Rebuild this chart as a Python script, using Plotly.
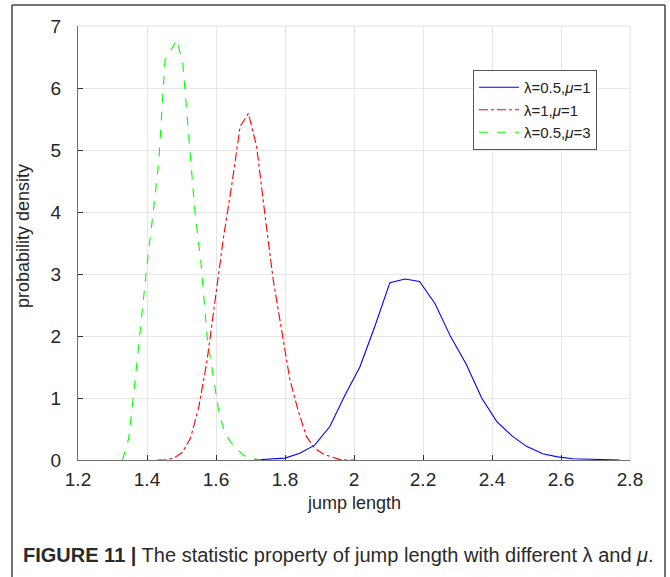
import plotly.graph_objects as go

# λ=0.5, μ=1
x_blue = [1.71, 1.755, 1.80, 1.843, 1.886, 1.93, 1.974, 2.017, 2.06, 2.104, 2.148, 2.19,
          2.235, 2.28, 2.325, 2.37, 2.414, 2.458, 2.50, 2.547, 2.59, 2.635, 2.68, 2.72, 2.77]
y_blue = [0.0, 0.01, 0.03, 0.11, 0.24, 0.54, 1.05, 1.5, 2.15, 2.86, 2.92, 2.88,
          2.52, 1.99, 1.55, 1.0, 0.62, 0.39, 0.22, 0.10, 0.05, 0.02, 0.01, 0.003, 0.0]

# λ=1, μ=1
x_red = [1.43, 1.454, 1.478, 1.502, 1.526, 1.55, 1.574, 1.598, 1.622, 1.646, 1.67, 1.694,
         1.718, 1.742, 1.766, 1.79, 1.814, 1.838, 1.862, 1.886, 1.91, 1.934, 1.958, 1.982, 2.0]
y_red = [0.0, 0.005, 0.03, 0.12, 0.35, 0.85, 1.6, 2.6, 3.6, 4.45, 5.38, 5.59,
         5.05, 3.95, 2.9, 2.1, 1.3, 0.8, 0.38, 0.19, 0.1, 0.05, 0.01, 0.0, 0.0]

# λ=0.5, μ=3
x_green = [1.329, 1.347, 1.364, 1.382, 1.399, 1.417, 1.434, 1.452, 1.469, 1.487, 1.504, 1.522,
           1.539, 1.557, 1.574, 1.592, 1.609, 1.627, 1.644, 1.662, 1.679, 1.697, 1.714, 1.732]
y_green = [0.0, 0.35, 1.2, 2.2, 3.1, 3.95, 4.8, 6.45, 6.62, 6.78, 6.38, 5.1,
           4.0, 3.15, 2.0, 1.35, 0.75, 0.42, 0.28, 0.17, 0.08, 0.03, 0.01, 0.0]

x_ticks = [1.2, 1.4, 1.6, 1.8, 2.0, 2.2, 2.4, 2.6, 2.8]
x_tick_labels = ["1.2", "1.4", "1.6", "1.8", "2", "2.2", "2.4", "2.6", "2.8"]
y_ticks = [0, 1, 2, 3, 4, 5, 6, 7]

series_names = ["λ=0.5,<i>μ</i>=1", "λ=1,<i>μ</i>=1", "λ=0.5,<i>μ</i>=3"]

fig = go.Figure()
fig.add_trace(go.Scatter(x=x_blue, y=y_blue, mode="lines", name=series_names[0],
                         line=dict(color="#0000ff", width=1.1)))
fig.add_trace(go.Scatter(x=x_red, y=y_red, mode="lines", name=series_names[1],
                         line=dict(color="#ff0000", width=1.1, dash="dashdot")))
fig.add_trace(go.Scatter(x=x_green, y=y_green, mode="lines", name=series_names[2],
                         line=dict(color="#00ff00", width=1.1, dash="dash")))

font_family = "Liberation Sans, Arial, sans-serif"

W, H = 670, 577
L, T = 78, 26
pw, ph = 552, 434
R = W - L - pw
B = H - T - ph

def px(xr):  # screen x -> paper x
    return (xr - L) / pw

def py(yr):  # screen y -> paper y
    return (T + ph - yr) / ph

fig.update_layout(
    width=W, height=H,
    margin=dict(l=L, r=R, t=T, b=B, autoexpand=False),
    paper_bgcolor="white", plot_bgcolor="white",
    font=dict(family=font_family, size=19, color="#262626"),
    showlegend=True,
    legend=dict(x=px(473), y=py(70), xanchor="left", yanchor="top",
                bgcolor="white", bordercolor="#555555", borderwidth=1,
                font=dict(size=15, color="#222222"), tracegroupgap=0,
                itemwidth=40),
    xaxis=dict(range=[1.2, 2.8], tickvals=x_ticks, ticktext=x_tick_labels,
               showgrid=True, gridcolor="#e6e6e6", gridwidth=1,
               showline=True, linecolor="#707070", linewidth=1.2,
               ticks="inside", ticklen=5, tickcolor="#333333",
               ticklabelstandoff=2, automargin=False,
               zeroline=False, tickfont=dict(size=19)),
    yaxis=dict(range=[0, 7], tickvals=y_ticks,
               showgrid=True, gridcolor="#e6e6e6", gridwidth=1,
               showline=True, linecolor="#707070", linewidth=1.2,
               ticks="inside", ticklen=5, tickcolor="#333333",
               ticklabelstandoff=12, automargin=False,
               zeroline=False, tickfont=dict(size=19)),
)

# axis titles
fig.add_annotation(xref="paper", yref="paper", x=px(354), y=py(503), xanchor="center", yanchor="middle",
                   showarrow=False, text="jump length", font=dict(size=18, color="#262626"))
fig.add_annotation(xref="paper", yref="paper", x=px(23), y=py(236), xanchor="center", yanchor="middle",
                   showarrow=False, text="probability density", textangle=-90,
                   font=dict(size=18, color="#262626"))

# top and right box edges (light)
fig.add_shape(type="line", xref="paper", yref="paper", x0=0, x1=1, y0=1, y1=1,
              line=dict(color="#e0e0e0", width=1))
fig.add_shape(type="line", xref="paper", yref="paper", x0=1, x1=1, y0=0, y1=1,
              line=dict(color="#e0e0e0", width=1))

# outer figure frame (left, top, right)
frame_col = "#444444"
fig.add_shape(type="line", xref="paper", yref="paper", x0=px(12), x1=px(12), y0=py(5), y1=py(590),
              line=dict(color=frame_col, width=1.5))
fig.add_shape(type="line", xref="paper", yref="paper", x0=px(12), x1=px(665), y0=py(5), y1=py(5),
              line=dict(color=frame_col, width=1.5))
fig.add_shape(type="line", xref="paper", yref="paper", x0=px(665), x1=px(665), y0=py(5), y1=py(590),
              line=dict(color=frame_col, width=1.5))

fig.add_annotation(xref="paper", yref="paper", x=px(21), y=py(555), xanchor="left", yanchor="middle",
                   showarrow=False,
                   text="<b>FIGURE 11 |</b> The statistic property of jump length with different λ and <i>μ</i>.",
                   font=dict(family="Liberation Sans Narrow, Liberation Sans, sans-serif", size=20,
                             color="#2a2a2a"))

fig.write_html("out.html", config={"displayModeBar": False},
               post_script="document.body.style.margin='0';document.body.style.overflow='hidden';")
